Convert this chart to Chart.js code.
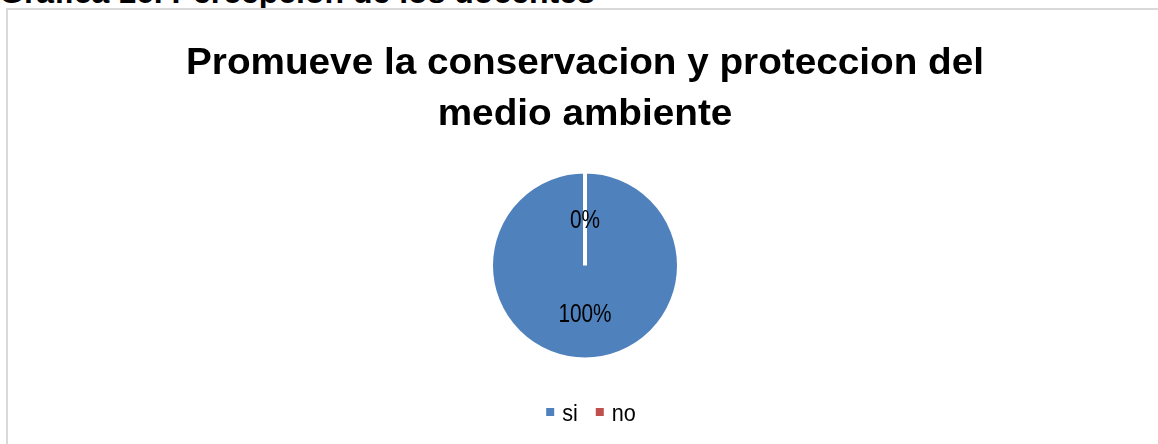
<!DOCTYPE html>
<html>
<head>
    <title>Grafica 16</title>
    <meta charset="UTF-8">
    <style>
        body { margin: 0; background: #fff; overflow: hidden; }
        .caption { position: absolute; left: -1px; top: -24px; font: bold 32px/32px "Liberation Sans", Arial, sans-serif; color: #000; white-space: nowrap; }
        .frame { position: absolute; left: 6px; top: 8px; width: 1300px; height: 600px; border: 2px solid #d9d9d9; background: #fff; }
        .chart-box { position: absolute; left: 0; top: 0; width: 1158px; height: 444px; }
    </style>
</head>
<body>
<div class="caption">Gráfica 16. Percepción de los docentes</div>
<div class="frame"></div>
<div class="chart-box">
    <canvas id="myChart"></canvas>
</div>
<script src="https://cdn.jsdelivr.net/npm/chart.js"></script>
<script>
    var categorias = ['si', 'no'];
    var porcentajes = [100, 0];
    var colores = ['#4f81bd', '#c0504d'];
    var titulo = ['Promueve la conservacion y proteccion del', 'medio ambiente'];

    var fuente = '"Liberation Sans", Arial, sans-serif';

    // text squeezed or stretched horizontally
    function texto(ctx, str, x, y, font, sx, align) {
        ctx.save();
        ctx.font = font;
        ctx.textAlign = align || 'center';
        ctx.textBaseline = 'alphabetic';
        ctx.translate(x, y);
        ctx.scale(sx, 1);
        ctx.fillText(str, 0, 0);
        ctx.restore();
    }

    var dibujo = {
        id: 'dibujo',
        afterDatasetsDraw: function(chart) {
            var ctx = chart.ctx;
            var meta = chart.getDatasetMeta(0);
            var cx = (chart.chartArea.left + chart.chartArea.right) / 2;
            ctx.fillStyle = '#000';

            // title, two lines
            texto(ctx, titulo[0], cx, 74, 'bold 36px ' + fuente, 1.075);
            texto(ctx, titulo[1], cx, 125, 'bold 36px ' + fuente, 1.075);

            // percentage in the middle of each slice
            meta.data.forEach(function(arc, i) {
                var p = arc.tooltipPosition();
                texto(ctx, porcentajes[i] + '%', p.x, p.y + 9, '26px ' + fuente, 0.8);
            });

            // legend under the pie
            var lf = '24px ' + fuente;
            var sx = 0.9;
            ctx.save();
            ctx.font = lf;
            var anchos = categorias.map(function(c) { return ctx.measureText(c).width * sx; });
            ctx.restore();
            var caja = 8, hueco = 8, sep = 18;
            var total = 0;
            anchos.forEach(function(w, i) { total += caja + hueco + w + (i ? sep : 0); });
            var x = cx + 6 - total / 2;
            var y = 412;
            categorias.forEach(function(c, i) {
                ctx.fillStyle = colores[i];
                ctx.fillRect(x, y - caja / 2, caja, caja);
                ctx.fillStyle = '#000';
                texto(ctx, c, x + caja + hueco, y + 9, lf, sx, 'left');
                x += caja + hueco + anchos[i] + sep;
            });
        }
    };

    var ctx = document.getElementById('myChart').getContext('2d');
    var chart = new Chart(ctx, {
        type: 'pie',
        data: {
            labels: categorias,
            datasets: [{
                data: porcentajes,
                backgroundColor: colores,
                borderColor: '#ffffff',
                borderWidth: 4,
                radius: 94
            }]
        },
        options: {
            responsive: true,
            maintainAspectRatio: false,
            animation: false,
            layout: { padding: { left: 12, top: 130, bottom: 43 } },
            plugins: {
                tooltip: { enabled: false },
                title: { display: false },
                legend: { display: false }
            }
        },
        plugins: [dibujo]
    });
</script>
</body>
</html>
